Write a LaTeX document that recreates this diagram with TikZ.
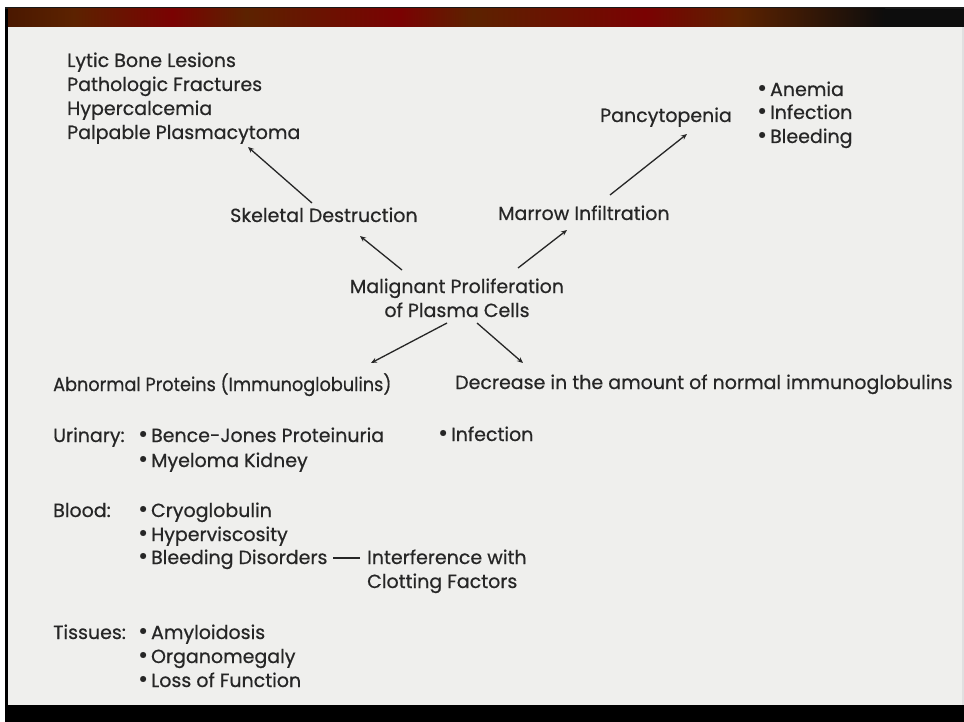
\documentclass[tikz,border=0pt]{standalone}
\usepackage{fontspec}
\setmainfont{Poppins}[FakeBold=0.6]
\usetikzlibrary{arrows.meta}
\definecolor{ink}{HTML}{262626}
\definecolor{paper}{HTML}{EFEFED}
\definecolor{barbrown}{HTML}{5C2200}
\definecolor{bardark}{HTML}{4A1800}
\definecolor{barred}{HTML}{7A0202}
\tikzset{
  txt/.style={inner sep=0pt, text=ink, font=\fontsize{19}{24}\selectfont, anchor=base west},
  ctxt/.style={txt, anchor=base},
  arr/.style={draw=ink, line width=1.3pt, -{Stealth[length=6pt,width=5pt]}},
}
% a slightly heavier bullet, followed by a narrow gap
\newcommand{\bul}{{\fontsize{24}{24}\selectfont •}\hspace{3pt}}
\begin{document}
\begin{tikzpicture}[x=1pt,y=-1pt]
  \useasboundingbox (0,0) rectangle (964,722);
  % frame and page
  \fill[white] (0,0) rectangle (964,722);
  \fill[paper] (8,27) rectangle (964,705);
  \fill[black] (5,7) rectangle (8,705);
  \fill[black] (5,705) rectangle (964,722);
  \fill[black!90] (5,7) rectangle (964,9);
  \fill[black!12] (962,27) rectangle (964,705);
  % banded title bar
  \shade[left color=bardark, right color=barbrown] (8,9) rectangle (74,27);
  \shade[left color=barbrown, right color=barred] (74,9) rectangle (172,27);
  \shade[left color=barred, right color=barbrown] (172,9) rectangle (246,27);
  \shade[left color=barbrown, right color=barred] (246,9) rectangle (400,27);
  \shade[left color=barred, right color=barbrown] (400,9) rectangle (473,27);
  \shade[left color=barbrown, right color=barred] (473,9) rectangle (645,27);
  \shade[left color=barred, right color=barbrown] (645,9) rectangle (738,27);
  \shade[left color=barbrown, right color=black!95] (738,9) rectangle (885,27);
  \fill[black!95] (885,9) rectangle (964,27);

  % bone findings
  \node[txt] (lytic) at (67,67) {Lytic Bone Lesions};
  \node[txt] (patho) at (67,91) {Pathologic Fractures};
  \node[txt] (hyper) at (67,115) {Hypercalcemia};
  \node[txt] (palp) at (67,139) {Palpable Plasmacytoma};

  % marrow findings
  \node[txt] (pancy) at (600,122) {Pancytopenia};
  \node[txt] (anemia) at (757,96) {\bul Anemia};
  \node[txt] (infa) at (757,119) {\bul Infection};
  \node[txt] (bleeda) at (757,143) {\bul Bleeding};

  % central chain
  \node[txt] (skel) at (230,222) {Skeletal Destruction};
  \node[txt] (marrow) at (498,220) {Marrow Infiltration};
  \node[ctxt] (maliga) at (457,293) {Malignant Proliferation};
  \node[ctxt] (maligb) at (457,317) {of Plasma Cells};
  \node[txt] (abn) at (53,391) {\scalebox{0.93}[1]{Abnormal Proteins (Immunoglobulins)}};
  \node[txt] (decr) at (455,389) {Decrease in the amount of normal immunoglobulins};

  % protein effects
  \node[txt] (urin) at (53,442) {Urinary:};
  \node[txt] (bence) at (138,442) {\bul Bence-Jones Proteinuria};
  \node[txt] (myel) at (138,467) {\bul Myeloma Kidney};
  \node[txt] (infb) at (438,441) {\bul Infection};
  \node[txt] (blood) at (53,517) {Blood:};
  \node[txt] (cryo) at (138,517) {\bul Cryoglobulin};
  \node[txt] (visc) at (138,541) {\bul Hyperviscosity};
  \node[txt] (bleedb) at (138,564) {\bul Bleeding Disorders\hspace{6pt}\rule[5.5pt]{27pt}{1.3pt}};
  \node[txt] (inter) at (367,564) {Interference with};
  \node[txt] (clot) at (367,588) {Clotting Factors};
  \node[txt] (tiss) at (53,639) {Tissues:};
  \node[txt] (amyl) at (138,639) {\bul Amyloidosis};
  \node[txt] (organ) at (138,663) {\bul Organomegaly};
  \node[txt] (loss) at (138,687) {\bul Loss of Function};

  % connectors
  \draw[arr] ([shift={(-55,-23)}]maliga.base) -- ([shift={(130,14)}]skel.base west);
  \draw[arr] ([shift={(61,-25)}]maliga.base) -- ([shift={(69,10)}]marrow.base west);
  \draw[arr] ([shift={(82,-19)}]skel.base west) -- ([shift={(181,8)}]palp.base west);
  \draw[arr] ([shift={(112,-25)}]marrow.base west) -- ([shift={(87,12)}]pancy.base west);
  \draw[arr] ([shift={(-10,6)}]maligb.base) -- ([shift={(318,-28)}]abn.base west);
  \draw[arr] ([shift={(20,6)}]maligb.base) -- ([shift={(68,-26)}]decr.base west);
\end{tikzpicture}
\end{document}
